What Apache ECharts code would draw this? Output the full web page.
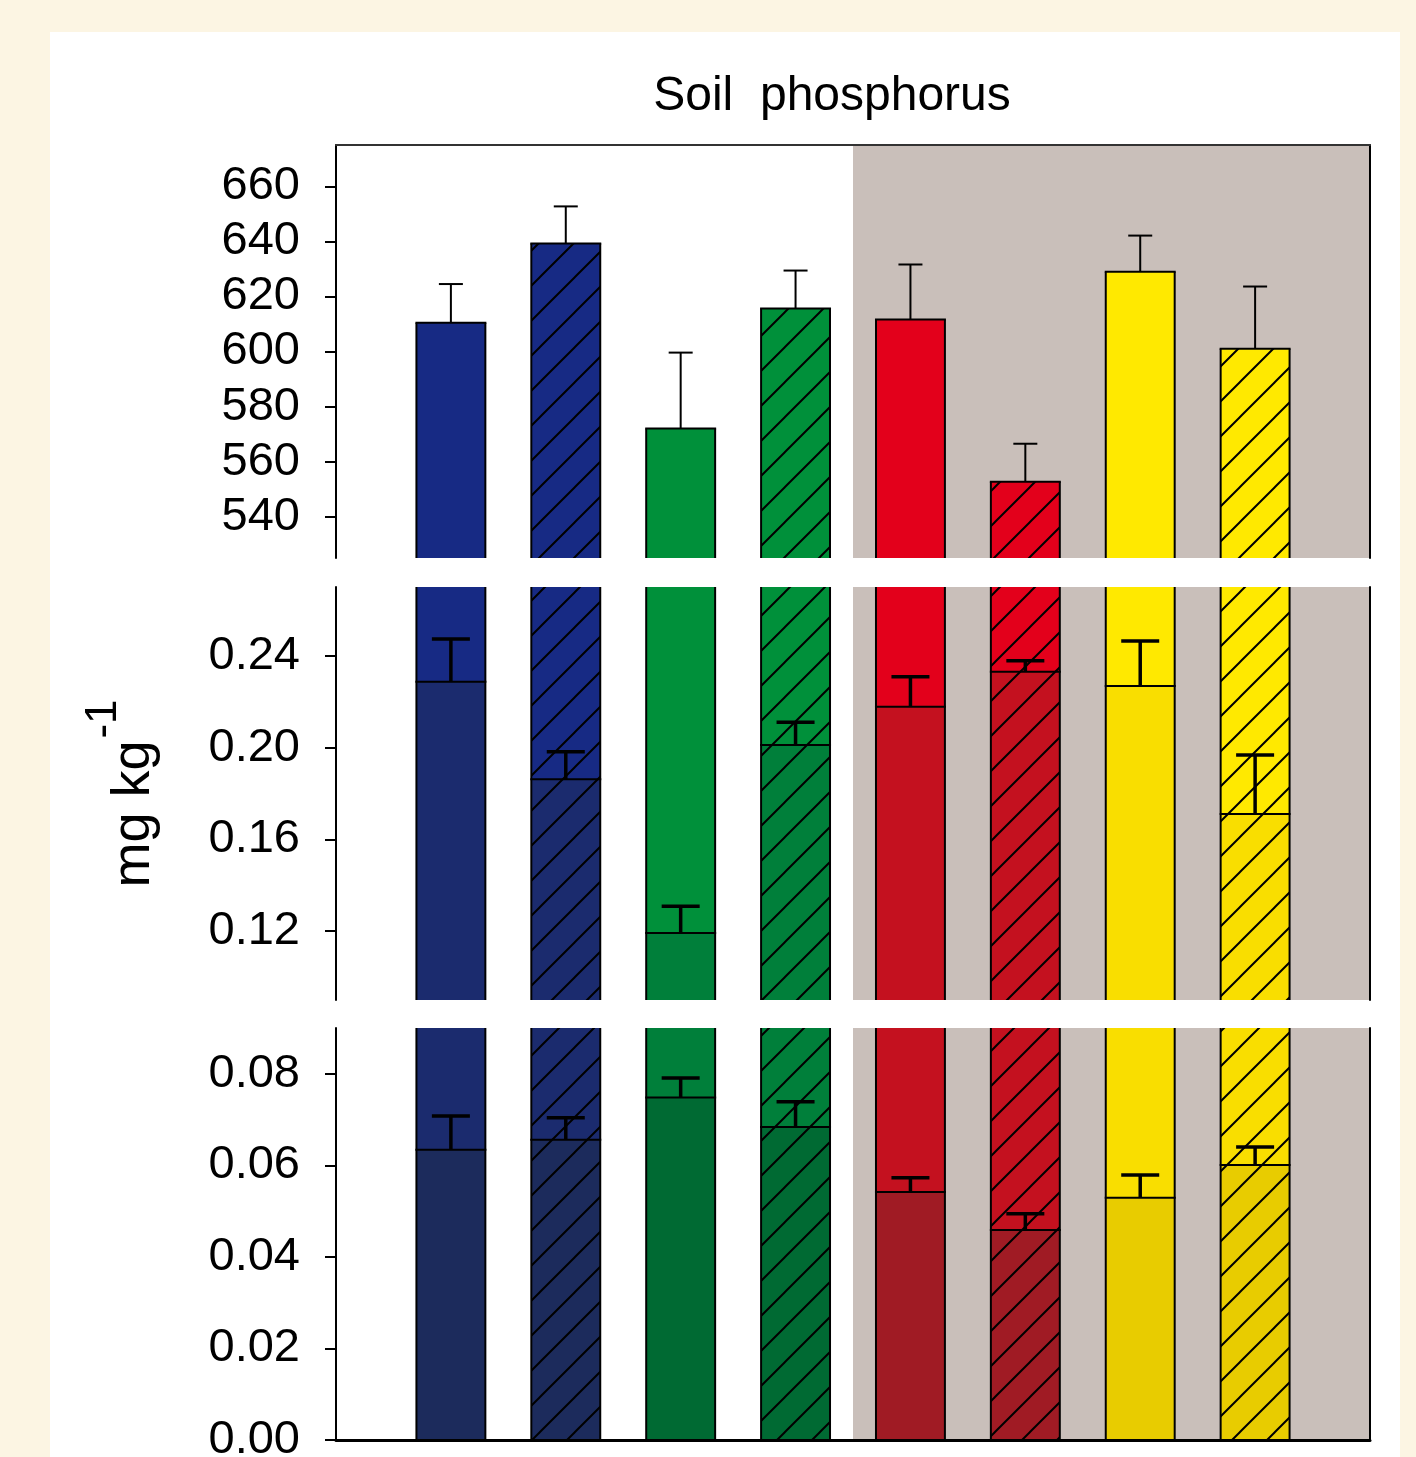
<!DOCTYPE html>
<html>
<head>
<meta charset="utf-8">
<script src="https://cdn.jsdelivr.net/npm/echarts@6/dist/echarts.min.js"></script>
<style>
  html, body { margin: 0; padding: 0; width: 1416px; height: 1457px; overflow: hidden; background: #FCF5E3; }
  #sheet { position: absolute; left: 50px; top: 32px; width: 1350px; height: 1425px; background: #ffffff; }
  #chart { width: 1350px; height: 1425px; }
</style>
</head>
<body>
<div id="sheet"><div id="chart"></div></div>
<script>
// ---- data (mg kg-1), one value per treatment ----
const treatments = ['T1', 'T2', 'T3', 'T4', 'T5', 'T6', 'T7', 'T8'];
const totalP    = [610.4, 639.2, 572.0, 615.6, 611.6, 552.7, 629.0, 601.0];
const totalPErr = [14.1, 13.5, 27.6, 13.8, 20.0, 13.8, 13.1, 22.6];
const midP      = [0.2287, 0.1862, 0.1192, 0.2011, 0.2178, 0.2331, 0.2268, 0.1711];
const midPErr   = [0.0186, 0.0120, 0.0117, 0.0100, 0.0131, 0.0048, 0.0197, 0.0257];
const lowP      = [0.0634, 0.0656, 0.0748, 0.0684, 0.0542, 0.0459, 0.0529, 0.0601];
const lowPErr   = [0.0074, 0.0048, 0.0043, 0.0055, 0.0031, 0.0035, 0.0050, 0.0039];

// tick labels of the three axis segments
const topTicks = [540, 560, 580, 600, 620, 640, 660];
const midTicks = [0.12, 0.16, 0.20, 0.24];
const lowTicks = [0.00, 0.02, 0.04, 0.06, 0.08];

// x-range (in slot units) of the shaded block on the right
const shadedSpan = [4.5, 9];

// ---- styling ----
const FONT = '"Liberation Sans", Arial, Helvetica, sans-serif';
const SHADES = {
  blue:   ['#172A84', '#1B2B6E', '#1C2B5C'],
  green:  ['#00903A', '#007F3A', '#006A33'],
  red:    ['#E3001B', '#C4111F', '#A01B24'],
  yellow: ['#FFE900', '#F9DE00', '#E8CC00']
};
const family  = ['blue', 'blue', 'green', 'green', 'red', 'red', 'yellow', 'yellow'];
const hatched = [false, true, false, true, false, true, false, true];
const BAR_W = 0.6;        // bar width in slot units
const SHADE_BG = '#C9BFBA';

function hatchFill(color) {
  const s = 35;
  const c = document.createElement('canvas');
  c.width = s; c.height = s;
  const g = c.getContext('2d');
  g.fillStyle = color;
  g.fillRect(0, 0, s, s);
  g.strokeStyle = '#000';
  g.lineWidth = 2;
  g.beginPath();
  for (const k of [0, s, 2 * s]) { g.moveTo(k + 10, -10); g.lineTo(-10, k + 10); }
  g.stroke();
  return { image: c, repeat: 'repeat' };
}
const fills = treatments.map((t, i) =>
  SHADES[family[i]].map(col => hatched[i] ? hatchFill(col) : col));

// the three stacked segments of the broken value axis
const panels = [
  { min: 525,  max: 675,  ticks: topTicks, top: 113, height: 413, fmt: v => String(v),    errW: 2,   cap: 24, topLine: true,  bottomLine: false },
  { min: 0.09, max: 0.27, ticks: midTicks, top: 555, height: 413, fmt: v => v.toFixed(2), errW: 3.5, cap: 38, topLine: false, bottomLine: false },
  { min: 0,    max: 0.09, ticks: lowTicks, top: 996, height: 412, fmt: v => v.toFixed(2), errW: 3.5, cap: 38, topLine: false, bottomLine: true }
];

const rows = treatments.map((t, i) =>
  [i + 1, totalP[i], totalPErr[i], midP[i], midPErr[i], lowP[i], lowPErr[i]]);

function seg(x1, y1, x2, y2, w) {
  return { type: 'line', shape: { x1, y1, x2, y2 }, style: { stroke: '#000', lineWidth: w } };
}

const grid = [], xAxis = [], yAxis = [], series = [];
panels.forEach((P, k) => {
  grid.push({ left: 286, width: 1034, top: P.top, height: P.height,
              containLabel: false, outerBoundsMode: 'none' });
  xAxis.push({
    type: 'value', gridIndex: k, min: 0, max: 9,
    position: P.topLine ? 'top' : 'bottom',
    axisLine: { show: P.topLine || P.bottomLine, onZero: false,
                lineStyle: { color: P.topLine ? '#333' : '#000', width: P.topLine ? 2 : 3 } },
    axisTick: { show: false }, axisLabel: { show: false }, splitLine: { show: false }, z: 10
  });
  yAxis.push({
    type: 'value', gridIndex: k, min: P.min, max: P.max, position: 'left',
    axisLine: { show: true, onZero: false, lineStyle: { color: '#000', width: 2 } },
    axisTick: { show: true, customValues: P.ticks, length: 11, lineStyle: { color: '#000', width: 2 } },
    axisLabel: { show: true, customValues: P.ticks, formatter: P.fmt, margin: 36,
                 fontSize: 47, color: '#000', fontFamily: FONT },
    splitLine: { show: false }, z: 10,
    name: k === 1 ? '{a|mg kg}{s|-1}' : '',
    nameLocation: 'middle', nameRotate: 90, nameGap: 150,
    nameTextStyle: {
      color: '#000', fontFamily: FONT,
      rich: {
        a: { fontSize: 54, fontFamily: FONT, color: '#000' },
        s: { fontSize: 44, fontFamily: FONT, color: '#000', padding: [0, 0, 60, 2] }
      }
    }
  });
  yAxis.push({
    type: 'value', gridIndex: k, min: P.min, max: P.max, position: 'right',
    axisLine: { show: true, onZero: false, lineStyle: { color: '#000', width: 2 } },
    axisTick: { show: false }, axisLabel: { show: false }, splitLine: { show: false }, z: 10
  });

  // shaded block behind the right-hand treatments
  series.push({
    type: 'custom', xAxisIndex: k, yAxisIndex: 2 * k, z: 1, silent: true,
    data: [shadedSpan],
    renderItem(params, api) {
      const cs = params.coordSys;
      const x0 = api.coord([api.value(0), P.min])[0];
      const x1 = api.coord([api.value(1), P.min])[0];
      return { type: 'rect', shape: { x: x0, y: cs.y, width: x1 - x0, height: cs.height },
               style: { fill: SHADE_BG } };
    }
  });

  // bars with their error bars, clipped to this axis segment
  series.push({
    type: 'custom', xAxisIndex: k, yAxisIndex: 2 * k, z: 2,
    data: rows,
    encode: { x: 0, y: 1 },
    renderItem(params, api) {
      const cs = params.coordSys;
      const i = params.dataIndex;
      const xv = api.value(0);
      const cx = api.coord([xv, P.min])[0];
      const half = api.size([BAR_W, 0])[0] / 2;
      const yTop = cs.y, yBot = cs.y + cs.height;
      const yOf = v => api.coord([xv, v])[1];
      const children = [];
      let highest = null;
      for (let L = 0; L < 3; L++) {
        const v = api.value(1 + 2 * L);
        if (!(v > P.min)) continue;
        const ty = Math.max(yOf(Math.min(v, P.max)), yTop);
        if (highest === null) highest = ty;
        children.push({ type: 'rect', shape: { x: cx - half, y: ty, width: 2 * half, height: yBot - ty },
                        style: { fill: fills[i][L] } });
      }
      if (highest === null) return null;
      children.push(seg(cx - half, yBot, cx - half, highest, 2));
      children.push(seg(cx + half, yBot, cx + half, highest, 2));
      for (let L = 0; L < 3; L++) {
        const v = api.value(1 + 2 * L), e = api.value(2 + 2 * L);
        if (!(v > P.min && v < P.max)) continue;
        const by = yOf(v);
        children.push(seg(cx - half - 1, by, cx + half + 1, by, 2));
        const tip = v + e;
        const ty = Math.max(yOf(Math.min(tip, P.max)), yTop);
        children.push(seg(cx, by, cx, ty, P.errW));
        if (tip <= P.max) children.push(seg(cx - P.cap / 2, ty, cx + P.cap / 2, ty, P.errW));
      }
      return { type: 'group', children };
    }
  });
});

const chart = echarts.init(document.getElementById('chart'), null, { renderer: 'canvas' });
chart.setOption({
  backgroundColor: '#ffffff',
  animation: false,
  title: {
    text: 'Soil  phosphorus', left: 777, top: 36, textAlign: 'center',
    textStyle: { fontSize: 48, fontWeight: 'normal', color: '#000', fontFamily: FONT }
  },
  grid, xAxis, yAxis, series
});
</script>
</body>
</html>
